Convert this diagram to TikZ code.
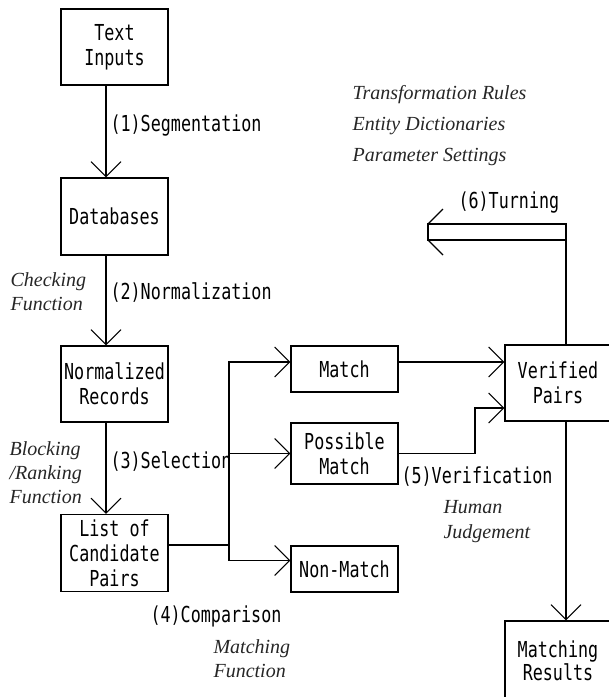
\documentclass[tikz,border=0pt]{standalone}
\usepackage{fontspec}
\setmainfont{Liberation Serif}
\newfontfamily\gothic[FakeStretch=0.76]{DejaVu Sans Mono}
\usetikzlibrary{arrows.meta}
\begin{document}
\begin{tikzpicture}[x=1pt,y=-1pt,line width=1.1pt,
  box/.style={draw,inner sep=0pt,minimum width=107pt,align=center,font=\gothic\fontsize{22}{25}\selectfont},
  lbl/.style={anchor=west,inner sep=0pt,font=\gothic\fontsize{22}{25}\selectfont},
  note/.style={anchor=west,inner sep=0pt,align=left,text=black!85,font=\itshape\fontsize{20}{24}\selectfont},
  arr/.style={-{Straight Barb[length=15pt,width=30pt]}}]
      \useasboundingbox (0,0) rectangle (609,697);
      \node[box,minimum height=76pt] (txt) at (114.5,47) {Text\\Inputs};
      \node[box,minimum height=77pt] (db) at (114.5,216.5) {Databases};
      \node[box,minimum height=76pt] (norm) at (114.5,384) {Normalized\\Records};
      \node[box,minimum height=77pt] (cand) at (114.5,553) {List of\\Candidate\\Pairs};
      \node[box,minimum height=46pt] (match) at (344.5,369) {Match};
      \node[box,minimum height=61pt] (poss) at (344.5,453.5) {Possible\\Match};
      \node[box,minimum height=46pt] (nonm) at (344.5,569) {Non-Match};
      \node[box,minimum width=106pt,minimum height=76pt] (verif) at (558,383) {Verified\\Pairs};
      \node[box,minimum width=106pt,minimum height=80pt,font=\gothic\fontsize{22}{21}\selectfont] (res) at (558,661) {Matching\\Results};
      \draw[arr] ([xshift=-8.5pt]txt.south) -- ([xshift=-8.5pt]db.north);
      \draw[arr] ([xshift=-8.5pt]db.south) -- ([xshift=-8.5pt]norm.north);
      \draw[arr] ([xshift=-8.5pt]norm.south) -- ([xshift=-8.5pt]cand.north);
      \coordinate (br) at (229,545); \coordinate (pv) at (475,408); \coordinate (tn) at (566,224);
      \draw ([yshift=8pt]cand.east) -- (br);
      \draw[arr] (br) |- ([yshift=7pt]match.west); \draw[arr] (br) |- (poss.west);
      \draw[arr] (br) |- ([yshift=8.5pt]nonm.west);
      \draw[arr] ([yshift=7pt]match.east) -- ([yshift=7pt]match.east -| verif.west);
      \draw[arr] (poss.east) -| (pv) -- (pv -| verif.west);
      \draw[arr] ([xshift=8pt]verif.south) -- ([xshift=8pt]res.north);
      % hollow turning arrow
      \draw ([xshift=8pt]verif.north) -- (tn) -- (428,224) -- (428,240) -- (566,240);
      \draw (443,209) -- (428,224); \draw (443,255) -- (428,240);
      \node[lbl] (l1) at (110,126) {(1)Segmentation}; \node[lbl] (l2) at (110,293) {(2)Normalization};
      \node[lbl] (l3) at (110,462) {(3)Selection}; \node[lbl] (l4) at (150,616) {(4)Comparison};
      \node[lbl] (l5) at (401,477) {(5)Verification}; \node[lbl] (l6) at (458,203) {(6)Turning};
      \node[note] (n1) at (10,291.5) {Checking\\Function};
      \node[note] (n2) at (9,472.5) {Blocking\\/Ranking\\Function};
      \node[note] (n3) at (213,658.5) {Matching\\Function};
      \node[note,font=\itshape\fontsize{20}{25}\selectfont] (n5) at (443,521.5) {Human\\Judgement};
      \node[note,font=\itshape\fontsize{20}{31}\selectfont] (n6) at (352,126) {Transformation Rules\\Entity Dictionaries\\Parameter Settings};
\end{tikzpicture}
\end{document}
